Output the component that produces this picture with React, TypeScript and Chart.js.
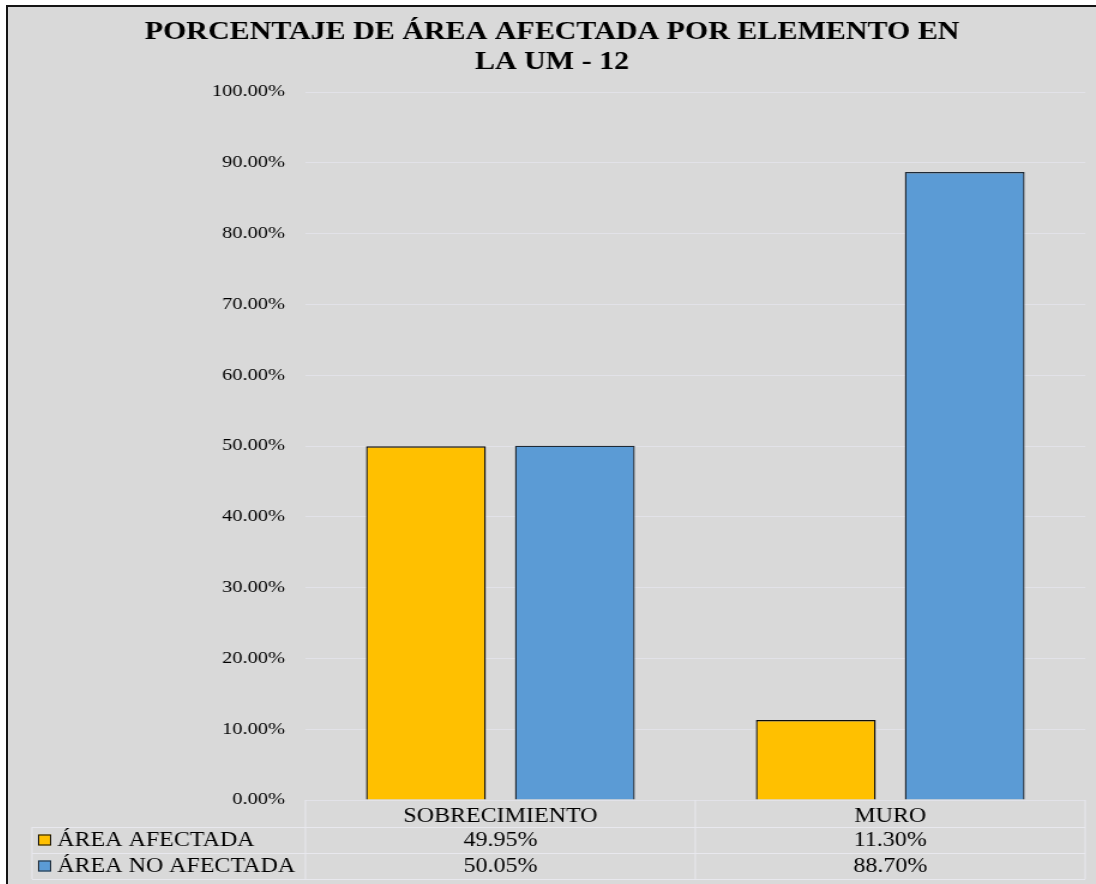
import React, { useEffect, useRef } from 'react';
import { Chart, registerables } from 'chart.js';

Chart.register(...registerables);

// ---- data ----
const TITLE_LINES = ['PORCENTAJE DE ÁREA AFECTADA POR ELEMENTO EN', 'LA UM - 12'];
const categories = ['SOBRECIMIENTO', 'MURO'];
const seriesNames = ['ÁREA AFECTADA', 'ÁREA NO AFECTADA'];
const areaAfectada = [49.95, 11.3];
const areaNoAfectada = [50.05, 88.7];
const yMin = 0;
const yMax = 100;
const yStep = 10;

// ---- style ----
const SERIF = "'Liberation Serif', 'Times New Roman', Times, serif";
const FILLS = ['#FFC000', '#5B9BD5'];
const BORDERS = ['#0d0d0d', '#1f2a36'];
const GRID = '#e2e2e8';
const TABLE_LINE = '#e8e8ee';
const BG = '#d9d9d9';

// internal canvas size; the canvas is shown stretched horizontally like the reference
const W = 907;
const H = 877;
const CSS_W = 1088;

const fmt = (v: number) => v.toFixed(2) + '%';

const titlePlugin = {
  id: 'stackedTitle',
  afterDraw(chart: any) {
    const { ctx, width } = chart;
    ctx.save();
    ctx.fillStyle = '#000';
    ctx.font = `bold 25px ${SERIF}`;
    ctx.textAlign = 'center';
    ctx.textBaseline = 'alphabetic';
    ctx.fillText(TITLE_LINES[0], width / 2, 32.3);
    ctx.fillText(TITLE_LINES[1], width / 2, 62.3);
    ctx.restore();
  },
};

const tablePlugin = {
  id: 'dataTable',
  afterDraw(chart: any) {
    const { ctx, chartArea, scales } = chart;
    const xs = scales.x;
    const left = chartArea.left;
    const right = chartArea.right;
    const top = chartArea.bottom;
    const headerH = 27;
    const rowH = 26;
    const labelColLeft = 20;
    const r1 = top + headerH;
    const r2 = r1 + rowH;
    const r3 = r2 + rowH;
    const n = chart.data.labels.length;
    const bounds: number[] = [left];
    for (let i = 0; i < n - 1; i++) {
      bounds.push((xs.getPixelForTick(i) + xs.getPixelForTick(i + 1)) / 2);
    }
    bounds.push(right);

    ctx.save();
    ctx.strokeStyle = TABLE_LINE;
    ctx.lineWidth = 1;
    ctx.beginPath();
    bounds.forEach((x) => {
      ctx.moveTo(x, top);
      ctx.lineTo(x, r3);
    });
    ctx.moveTo(labelColLeft, r1);
    ctx.lineTo(labelColLeft, r3);
    [r1, r2, r3].forEach((y) => {
      ctx.moveTo(labelColLeft, y + 0.5);
      ctx.lineTo(right, y + 0.5);
    });
    ctx.stroke();

    chart.data.datasets.forEach((ds: any, i: number) => {
      const yc = r1 + rowH * i + rowH / 2;
      ctx.fillStyle = ds.backgroundColor;
      ctx.strokeStyle = ds.borderColor;
      ctx.lineWidth = 1;
      ctx.fillRect(25, yc - 5.5, 11, 11);
      ctx.strokeRect(25.5, yc - 5, 10, 10);
      ctx.fillStyle = '#000';
      ctx.font = `20px ${SERIF}`;
      ctx.textBaseline = 'middle';
      ctx.textAlign = 'left';
      ctx.fillText(ds.label, 41, yc + 1);
      ctx.textAlign = 'center';
      ds.data.forEach((v: number, j: number) => {
        ctx.fillText(fmt(v), xs.getPixelForTick(j), yc + 1);
      });
    });
    ctx.restore();
  },
};

export default function App() {
  const ref = useRef<HTMLCanvasElement | null>(null);

  useEffect(() => {
    document.body.style.margin = '0';
    const canvas = ref.current;
    if (!canvas) return;
    const chart = new Chart(canvas, {
      type: 'bar',
      data: {
        labels: categories,
        datasets: [
          {
            label: seriesNames[0],
            data: areaAfectada,
            backgroundColor: FILLS[0],
            borderColor: BORDERS[0],
            borderWidth: 1.4,
            categoryPercentage: 0.764,
            barPercentage: 0.805,
          },
          {
            label: seriesNames[1],
            data: areaNoAfectada,
            backgroundColor: FILLS[1],
            borderColor: BORDERS[1],
            borderWidth: 1.4,
            categoryPercentage: 0.764,
            barPercentage: 0.805,
          },
        ],
      },
      options: {
        responsive: false,
        animation: false,
        devicePixelRatio: 1,
        layout: { padding: { top: 85, right: 9, bottom: 57, left: 0 } },
        plugins: {
          legend: { display: false },
          title: { display: false },
          tooltip: { enabled: false },
        },
        scales: {
          x: {
            grid: { display: false },
            border: { display: false },
            ticks: {
              color: '#000',
              font: { family: SERIF, size: 20 },
              padding: -3,
              maxRotation: 0,
            },
            afterFit(scale: any) {
              scale.height = 27;
            },
          },
          y: {
            min: yMin,
            max: yMax,
            ticks: {
              stepSize: yStep,
              color: '#000',
              font: { family: SERIF, size: 17 },
              padding: 17,
              callback: (v: any) => fmt(Number(v)),
            },
            grid: { color: GRID, lineWidth: 1, drawTicks: false },
            border: { display: false },
            afterFit(scale: any) {
              scale.width = 248;
            },
          },
        },
      },
      plugins: [titlePlugin, tablePlugin],
    });
    return () => chart.destroy();
  }, []);

  return (
    <div
      style={{
        position: 'fixed',
        left: 0,
        top: 0,
        width: 1096,
        height: 884,
        background: '#ffffff',
        overflow: 'hidden',
      }}
    >
      <div
        style={{
          position: 'absolute',
          left: 6,
          top: 5,
          width: 1096,
          height: 884,
          borderLeft: '2px solid #141414',
          borderTop: '2px solid #141414',
          background: BG,
        }}
      >
        <canvas
          ref={ref}
          width={W}
          height={H}
          style={{ width: CSS_W + 'px', height: H + 'px', display: 'block' }}
        />
      </div>
    </div>
  );
}
